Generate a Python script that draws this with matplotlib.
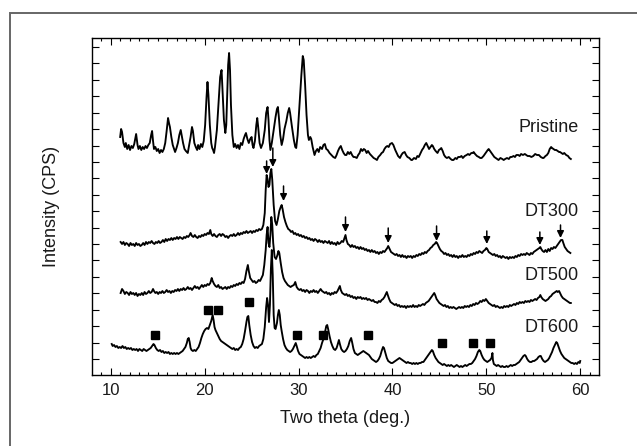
import numpy as np
import matplotlib
matplotlib.use("Agg")
import matplotlib.pyplot as plt
from matplotlib.patches import Rectangle

plt.rcParams["font.family"] = ["Liberation Sans", "DejaVu Sans"]

# (two theta, intensity offset)
pristine = np.array([
    (11.0, 238), (11.1, 246), (11.2, 243), (11.35, 232), (11.5, 228), (11.6, 232), (11.75, 226), (11.9, 230),
    (12.05, 225), (12.2, 229), (12.35, 227), (12.5, 231), (12.7, 241), (12.85, 230), (12.95, 226), (13.1, 229),
    (13.25, 225), (13.4, 228), (13.55, 226), (13.7, 229), (13.85, 227), (14.0, 230), (14.15, 232), (14.3, 240),
    (14.4, 244), (14.5, 234), (14.6, 226), (14.75, 228), (14.9, 224), (15.05, 226), (15.2, 222), (15.35, 225),
    (15.5, 223), (15.65, 226), (15.8, 232), (15.95, 244), (16.1, 257), (16.2, 252), (16.3, 248), (16.45, 238),
    (16.6, 230), (16.75, 226), (16.85, 223), (17.0, 227), (17.15, 232), (17.3, 240), (17.45, 245), (17.55, 240),
    (17.7, 232), (17.85, 226), (18.0, 224), (18.2, 222), (18.35, 230), (18.5, 238), (18.65, 248), (18.75, 244),
    (18.9, 232), (19.05, 228), (19.2, 225), (19.3, 230), (19.45, 226), (19.6, 231), (19.75, 228), (19.9, 234),
    (20.05, 250), (20.2, 278), (20.3, 293), (20.4, 280), (20.55, 250), (20.7, 232), (20.8, 227), (20.9, 225),
    (21.0, 222), (21.1, 228), (21.3, 245), (21.5, 275), (21.65, 298), (21.8, 305), (21.9, 285), (22.05, 255),
    (22.2, 242), (22.3, 250), (22.4, 280), (22.5, 310), (22.6, 322), (22.7, 305), (22.8, 270), (22.95, 240),
    (23.1, 228), (23.25, 231), (23.4, 227), (23.55, 230), (23.7, 226), (23.85, 232), (24.0, 230), (24.15, 236),
    (24.3, 240), (24.4, 242), (24.55, 236), (24.7, 232), (24.85, 236), (25.0, 238), (25.1, 230), (25.2, 227),
    (25.35, 234), (25.5, 250), (25.6, 257), (25.7, 248), (25.85, 232), (26.0, 227), (26.2, 232), (26.4, 245),
    (26.55, 262), (26.7, 268), (26.8, 255), (26.9, 235), (27.0, 225), (27.15, 232), (27.35, 245), (27.55, 258),
    (27.7, 266), (27.8, 268), (27.9, 258), (28.05, 240), (28.2, 230), (28.35, 236), (28.5, 246), (28.7, 254),
    (28.85, 262), (29.0, 267), (29.1, 262), (29.3, 248), (29.5, 235), (29.65, 228), (29.75, 227), (29.9, 240),
    (30.1, 270), (30.3, 300), (30.45, 319), (30.55, 315), (30.7, 290), (30.85, 260), (31.0, 240), (31.1, 235),
    (31.25, 238), (31.35, 236), (31.5, 228), (31.7, 220), (31.85, 224), (32.0, 226), (32.15, 223), (32.3, 228),
    (32.5, 226), (32.65, 230), (32.8, 231), (32.95, 226), (33.1, 225), (33.3, 222), (33.5, 220), (33.7, 218),
    (33.9, 217), (34.05, 220), (34.2, 224), (34.35, 227), (34.5, 229), (34.65, 225), (34.8, 222), (34.95, 220),
    (35.1, 220), (35.25, 223), (35.4, 221), (35.55, 223), (35.7, 220), (35.85, 218), (36.0, 218), (36.2, 217),
    (36.35, 220), (36.5, 222), (36.65, 226), (36.8, 224), (36.95, 226), (37.1, 225), (37.25, 222), (37.4, 224),
    (37.6, 221), (37.8, 219), (38.0, 217), (38.2, 216), (38.35, 215), (38.5, 218), (38.7, 220), (38.85, 222),
    (39.0, 223), (39.15, 226), (39.3, 228), (39.45, 229), (39.6, 228), (39.75, 231), (39.95, 232), (40.1, 230),
    (40.3, 225), (40.45, 222), (40.6, 219), (40.8, 217), (40.95, 220), (41.1, 222), (41.3, 223), (41.45, 220),
    (41.6, 218), (41.8, 217), (42.0, 215), (42.1, 215), (42.3, 217), (42.5, 216), (42.65, 219), (42.8, 218),
    (43.0, 222), (43.15, 225), (43.3, 227), (43.45, 230), (43.6, 232), (43.75, 229), (43.9, 226), (44.05, 228),
    (44.2, 230), (44.3, 229), (44.45, 226), (44.6, 224), (44.8, 222), (44.95, 225), (45.1, 226), (45.2, 227),
    (45.35, 224), (45.5, 220), (45.65, 218), (45.8, 217), (46.0, 218), (46.2, 216), (46.35, 215), (46.5, 215),
    (46.7, 217), (46.85, 216), (47.0, 218), (47.2, 218), (47.35, 219), (47.5, 217), (47.7, 219), (47.9, 220),
    (48.05, 221), (48.2, 220), (48.4, 222), (48.55, 222), (48.65, 223), (48.8, 221), (49.0, 219), (49.2, 218),
    (49.35, 217), (49.5, 217), (49.7, 219), (49.85, 221), (50.0, 223), (50.15, 225), (50.25, 226), (50.4, 224),
    (50.55, 222), (50.7, 220), (50.85, 218), (51.0, 217), (51.15, 216), (51.3, 215), (51.5, 217), (51.7, 216),
    (51.85, 215), (52.0, 216), (52.2, 217), (52.4, 216), (52.55, 218), (52.7, 218), (52.9, 219), (53.05, 218),
    (53.2, 220), (53.4, 220), (53.55, 219), (53.7, 221), (53.9, 220), (54.1, 221), (54.25, 220), (54.4, 219),
    (54.6, 219), (54.8, 218), (55.0, 219), (55.2, 221), (55.4, 220), (55.6, 220), (55.8, 218), (56.0, 217),
    (56.1, 217), (56.3, 219), (56.45, 220), (56.6, 222), (56.75, 226), (56.9, 228), (57.0, 227), (57.15, 226),
    (57.3, 225), (57.45, 225), (57.6, 224), (57.75, 223), (57.85, 223), (58.0, 222), (58.15, 221), (58.3, 222),
    (58.5, 220), (58.7, 219), (58.85, 217), (59.0, 216),
])

dt300 = np.array([
    (11.05, 133), (11.2, 131), (11.35, 133), (11.5, 130), (11.65, 132), (11.8, 131), (11.95, 129), (12.1, 132),
    (12.25, 130), (12.4, 131), (12.55, 129), (12.7, 132), (12.85, 130), (13.0, 131), (13.15, 129), (13.3, 130),
    (13.45, 132), (13.6, 130), (13.75, 133), (13.9, 131), (14.05, 133), (14.2, 132), (14.35, 134), (14.5, 132),
    (14.65, 131), (14.8, 133), (14.95, 132), (15.1, 134), (15.25, 132), (15.4, 133), (15.55, 135), (15.7, 133),
    (15.85, 136), (16.0, 134), (16.15, 136), (16.3, 135), (16.45, 137), (16.6, 135), (16.75, 137), (16.9, 136),
    (17.05, 138), (17.2, 136), (17.35, 138), (17.5, 137), (17.65, 136), (17.8, 138), (17.95, 137), (18.1, 139),
    (18.25, 138), (18.4, 140), (18.5, 142), (18.65, 139), (18.8, 138), (18.95, 140), (19.1, 138), (19.25, 137),
    (19.4, 139), (19.55, 138), (19.7, 140), (19.85, 139), (20.0, 141), (20.15, 140), (20.3, 142), (20.45, 141),
    (20.6, 145), (20.7, 141), (20.85, 139), (21.0, 141), (21.15, 139), (21.3, 138), (21.45, 140), (21.6, 141),
    (21.75, 139), (21.9, 141), (22.05, 140), (22.2, 138), (22.35, 139), (22.5, 137), (22.65, 139), (22.8, 140),
    (22.95, 139), (23.1, 141), (23.25, 139), (23.4, 140), (23.55, 142), (23.7, 140), (23.85, 142), (24.0, 141),
    (24.15, 143), (24.3, 142), (24.45, 144), (24.6, 142), (24.75, 143), (24.9, 144), (25.05, 142), (25.2, 144),
    (25.35, 143), (25.5, 145), (25.65, 144), (25.8, 146), (25.95, 145), (26.1, 146), (26.25, 150), (26.4, 162),
    (26.5, 185), (26.6, 200), (26.7, 196), (26.8, 188), (26.9, 190), (27.0, 202), (27.1, 206), (27.2, 195),
    (27.35, 170), (27.5, 154), (27.65, 150), (27.8, 156), (27.95, 164), (28.1, 168), (28.2, 170), (28.3, 166),
    (28.45, 158), (28.6, 153), (28.75, 149), (28.9, 146), (29.05, 145), (29.2, 143), (29.35, 144), (29.5, 141),
    (29.65, 142), (29.8, 140), (29.95, 141), (30.1, 139), (30.25, 140), (30.4, 138), (30.55, 139), (30.7, 137),
    (30.85, 138), (31.0, 136), (31.15, 137), (31.3, 135), (31.45, 136), (31.6, 134), (31.75, 136), (31.9, 135),
    (32.05, 133), (32.2, 135), (32.35, 133), (32.5, 134), (32.65, 132), (32.8, 134), (32.95, 133), (33.1, 132),
    (33.25, 134), (33.4, 131), (33.55, 133), (33.7, 131), (33.85, 132), (34.0, 130), (34.15, 133), (34.3, 131),
    (34.45, 132), (34.6, 134), (34.75, 133), (34.9, 137), (35.0, 140), (35.1, 135), (35.25, 131), (35.4, 130),
    (35.55, 128), (35.7, 130), (35.85, 128), (36.0, 129), (36.15, 127), (36.3, 128), (36.45, 126), (36.6, 128),
    (36.75, 126), (36.9, 127), (37.05, 125), (37.2, 126), (37.35, 124), (37.5, 125), (37.65, 123), (37.8, 125),
    (37.95, 123), (38.1, 124), (38.25, 122), (38.4, 123), (38.55, 121), (38.7, 123), (38.85, 122), (39.0, 124),
    (39.15, 123), (39.3, 125), (39.45, 127), (39.55, 129), (39.7, 126), (39.85, 123), (40.0, 122), (40.15, 121),
    (40.3, 120), (40.45, 121), (40.6, 119), (40.75, 120), (40.9, 118), (41.05, 120), (41.2, 118), (41.35, 119),
    (41.5, 117), (41.65, 119), (41.8, 118), (41.95, 119), (42.1, 117), (42.25, 119), (42.4, 118), (42.55, 120),
    (42.7, 119), (42.85, 121), (43.0, 120), (43.15, 122), (43.3, 121), (43.45, 123), (43.6, 122), (43.75, 124),
    (43.9, 125), (44.05, 127), (44.2, 128), (44.35, 130), (44.5, 131), (44.65, 133), (44.75, 132), (44.9, 129),
    (45.05, 126), (45.2, 124), (45.35, 123), (45.5, 121), (45.65, 122), (45.8, 120), (45.95, 121), (46.1, 119),
    (46.25, 120), (46.4, 118), (46.55, 120), (46.7, 118), (46.85, 119), (47.0, 117), (47.15, 119), (47.3, 118),
    (47.45, 120), (47.6, 118), (47.75, 119), (47.9, 118), (48.05, 120), (48.2, 119), (48.35, 121), (48.5, 120),
    (48.65, 122), (48.8, 121), (48.95, 123), (49.1, 122), (49.25, 124), (49.4, 123), (49.55, 122), (49.7, 124),
    (49.85, 125), (50.0, 127), (50.1, 126), (50.25, 123), (50.4, 122), (50.55, 121), (50.7, 120), (50.85, 121),
    (51.0, 119), (51.15, 120), (51.3, 118), (51.45, 119), (51.6, 117), (51.75, 119), (51.9, 118), (52.05, 117),
    (52.2, 118), (52.35, 116), (52.5, 118), (52.65, 117), (52.8, 118), (52.95, 117), (53.1, 119), (53.25, 118),
    (53.4, 120), (53.55, 119), (53.7, 121), (53.85, 120), (54.0, 121), (54.15, 120), (54.3, 122), (54.45, 121),
    (54.6, 120), (54.75, 122), (54.9, 121), (55.05, 123), (55.2, 124), (55.35, 125), (55.5, 126), (55.65, 127),
    (55.75, 128), (55.85, 126), (56.0, 124), (56.15, 123), (56.3, 125), (56.45, 123), (56.6, 126), (56.75, 124),
    (56.9, 127), (57.05, 126), (57.2, 128), (57.35, 127), (57.5, 129), (57.65, 131), (57.8, 133), (57.95, 135),
    (58.1, 135), (58.2, 132), (58.35, 128), (58.5, 126), (58.65, 124), (58.8, 123), (58.95, 122),
])

dt500 = np.array([
    (11.05, 82), (11.2, 86), (11.35, 84), (11.5, 81), (11.65, 83), (11.8, 82), (11.95, 80), (12.1, 83),
    (12.25, 81), (12.4, 82), (12.55, 80), (12.7, 82), (12.85, 79), (13.0, 81), (13.15, 80), (13.3, 82),
    (13.45, 80), (13.6, 83), (13.75, 81), (13.9, 82), (14.05, 84), (14.2, 82), (14.35, 83), (14.5, 86),
    (14.6, 84), (14.75, 82), (14.9, 83), (15.05, 81), (15.2, 83), (15.35, 82), (15.5, 84), (15.65, 82),
    (15.8, 83), (15.95, 85), (16.1, 83), (16.25, 84), (16.4, 82), (16.55, 84), (16.7, 83), (16.85, 85),
    (17.0, 84), (17.15, 86), (17.3, 84), (17.45, 86), (17.6, 85), (17.75, 87), (17.9, 85), (18.05, 86),
    (18.2, 88), (18.35, 86), (18.5, 87), (18.65, 85), (18.8, 87), (18.95, 89), (19.1, 87), (19.25, 88),
    (19.4, 86), (19.55, 88), (19.7, 90), (19.85, 88), (20.0, 90), (20.15, 89), (20.3, 91), (20.45, 90),
    (20.6, 92), (20.75, 97), (20.85, 94), (21.0, 91), (21.15, 89), (21.3, 88), (21.45, 90), (21.6, 87),
    (21.75, 88), (21.9, 86), (22.05, 87), (22.2, 88), (22.35, 86), (22.5, 88), (22.65, 87), (22.8, 89),
    (22.95, 88), (23.1, 90), (23.25, 89), (23.4, 91), (23.55, 90), (23.7, 92), (23.85, 91), (24.0, 93),
    (24.15, 92), (24.3, 96), (24.45, 104), (24.6, 110), (24.7, 104), (24.85, 97), (25.0, 95), (25.15, 93),
    (25.3, 94), (25.45, 92), (25.6, 93), (25.75, 95), (25.9, 94), (26.05, 97), (26.2, 100), (26.35, 110),
    (26.5, 125), (26.6, 140), (26.7, 148), (26.8, 132), (26.9, 128), (27.0, 140), (27.1, 158), (27.2, 150),
    (27.3, 132), (27.45, 118), (27.6, 116), (27.75, 120), (27.85, 124), (27.95, 122), (28.1, 112), (28.25, 103),
    (28.4, 97), (28.55, 94), (28.7, 92), (28.85, 90), (29.0, 89), (29.15, 88), (29.3, 89), (29.5, 90),
    (29.65, 93), (29.8, 88), (29.95, 86), (30.1, 85), (30.25, 86), (30.4, 84), (30.55, 85), (30.7, 83),
    (30.85, 85), (31.0, 84), (31.15, 82), (31.3, 84), (31.45, 83), (31.6, 85), (31.75, 83), (31.9, 84),
    (32.05, 82), (32.2, 84), (32.35, 86), (32.5, 84), (32.65, 83), (32.8, 82), (32.95, 83), (33.1, 81),
    (33.25, 82), (33.4, 80), (33.55, 82), (33.7, 81), (33.85, 83), (34.0, 82), (34.15, 84), (34.3, 87),
    (34.4, 89), (34.5, 85), (34.65, 82), (34.8, 81), (34.95, 80), (35.1, 81), (35.25, 79), (35.4, 80),
    (35.55, 78), (35.7, 79), (35.85, 77), (36.0, 78), (36.15, 76), (36.3, 78), (36.45, 77), (36.6, 78),
    (36.75, 76), (36.9, 77), (37.05, 76), (37.2, 77), (37.35, 75), (37.5, 76), (37.65, 75), (37.8, 74),
    (37.95, 75), (38.1, 73), (38.25, 73), (38.4, 72), (38.55, 74), (38.7, 73), (38.85, 75), (39.0, 76),
    (39.15, 78), (39.3, 81), (39.4, 83), (39.5, 80), (39.65, 76), (39.8, 73), (39.95, 72), (40.1, 71),
    (40.25, 70), (40.4, 71), (40.55, 69), (40.7, 70), (40.85, 68), (41.0, 69), (41.15, 68), (41.3, 69),
    (41.45, 67), (41.6, 69), (41.75, 68), (41.9, 69), (42.05, 68), (42.2, 70), (42.35, 68), (42.5, 69),
    (42.65, 68), (42.8, 70), (42.95, 69), (43.1, 70), (43.25, 71), (43.4, 70), (43.55, 72), (43.7, 73),
    (43.85, 74), (44.0, 76), (44.15, 78), (44.3, 80), (44.45, 82), (44.55, 80), (44.7, 76), (44.85, 74),
    (45.0, 72), (45.15, 71), (45.3, 70), (45.45, 69), (45.6, 70), (45.75, 68), (45.9, 69), (46.05, 67),
    (46.2, 68), (46.35, 67), (46.5, 68), (46.65, 67), (46.8, 66), (46.95, 67), (47.1, 68), (47.25, 67),
    (47.4, 68), (47.55, 67), (47.7, 69), (47.85, 68), (48.0, 69), (48.15, 68), (48.3, 70), (48.45, 69),
    (48.6, 71), (48.75, 70), (48.9, 72), (49.05, 71), (49.2, 72), (49.35, 74), (49.5, 73), (49.65, 75),
    (49.8, 74), (49.95, 76), (50.1, 74), (50.25, 72), (50.4, 71), (50.55, 70), (50.7, 69), (50.85, 70),
    (51.0, 68), (51.15, 69), (51.3, 68), (51.45, 67), (51.6, 68), (51.75, 67), (51.9, 69), (52.05, 68),
    (52.2, 69), (52.35, 68), (52.5, 70), (52.65, 69), (52.8, 70), (52.95, 71), (53.1, 70), (53.25, 72),
    (53.4, 71), (53.55, 73), (53.7, 72), (53.85, 73), (54.0, 72), (54.15, 74), (54.3, 73), (54.45, 74),
    (54.6, 73), (54.75, 75), (54.9, 74), (55.05, 75), (55.2, 76), (55.35, 75), (55.5, 77), (55.65, 78),
    (55.75, 80), (55.85, 78), (56.0, 76), (56.15, 75), (56.3, 74), (56.45, 75), (56.6, 76), (56.75, 78),
    (56.9, 79), (57.05, 81), (57.2, 82), (57.35, 83), (57.5, 84), (57.6, 83), (57.75, 84), (57.85, 82),
    (58.0, 79), (58.15, 77), (58.3, 76), (58.45, 75), (58.6, 74), (58.75, 73), (58.9, 72), (59.0, 72),
])

dt600 = np.array([
    (10.1, 31), (10.2, 29), (10.35, 30), (10.5, 28), (10.65, 29), (10.8, 27), (10.95, 28), (11.1, 27),
    (11.25, 29), (11.4, 27), (11.55, 28), (11.7, 26), (11.85, 27), (12.0, 26), (12.15, 27), (12.3, 25),
    (12.45, 26), (12.6, 25), (12.75, 26), (12.9, 24), (13.05, 26), (13.2, 25), (13.35, 24), (13.5, 26),
    (13.65, 25), (13.8, 24), (13.95, 25), (14.1, 26), (14.25, 27), (14.4, 29), (14.55, 31), (14.65, 30),
    (14.8, 27), (14.95, 25), (15.1, 24), (15.25, 25), (15.4, 23), (15.55, 24), (15.7, 22), (15.85, 23),
    (16.0, 22), (16.15, 23), (16.3, 21), (16.45, 22), (16.6, 21), (16.75, 22), (16.9, 21), (17.05, 22),
    (17.2, 21), (17.35, 22), (17.5, 23), (17.65, 24), (17.8, 26), (17.95, 28), (18.1, 32), (18.2, 36),
    (18.3, 37), (18.4, 33), (18.5, 27), (18.6, 25), (18.75, 24), (18.9, 25), (19.05, 24), (19.2, 26),
    (19.35, 28), (19.5, 32), (19.65, 37), (19.8, 41), (19.95, 44), (20.1, 46), (20.25, 47), (20.4, 46),
    (20.55, 50), (20.7, 54), (20.8, 58), (20.85, 60), (20.95, 55), (21.05, 48), (21.15, 45), (21.3, 42),
    (21.45, 39), (21.6, 36), (21.75, 34), (21.9, 33), (22.05, 32), (22.2, 31), (22.35, 30), (22.5, 29),
    (22.65, 28), (22.8, 27), (22.95, 26), (23.1, 27), (23.25, 25), (23.4, 26), (23.55, 25), (23.7, 27),
    (23.85, 28), (24.0, 31), (24.15, 36), (24.3, 44), (24.45, 53), (24.55, 58), (24.65, 59), (24.75, 50),
    (24.9, 40), (25.05, 33), (25.2, 29), (25.35, 27), (25.5, 28), (25.65, 27), (25.8, 29), (25.95, 30),
    (26.1, 31), (26.25, 36), (26.4, 48), (26.55, 68), (26.65, 77), (26.75, 70), (26.85, 53), (26.95, 70),
    (27.05, 105), (27.15, 125), (27.25, 100), (27.35, 60), (27.45, 47), (27.55, 46), (27.7, 52), (27.8, 60),
    (27.9, 65), (28.0, 60), (28.1, 50), (28.2, 44), (28.35, 36), (28.5, 30), (28.65, 27), (28.8, 25),
    (28.95, 24), (29.1, 23), (29.25, 24), (29.4, 26), (29.55, 29), (29.7, 32), (29.8, 29), (29.95, 24),
    (30.1, 21), (30.25, 20), (30.4, 19), (30.55, 18), (30.7, 17), (30.85, 18), (31.0, 17), (31.15, 18),
    (31.3, 17), (31.45, 18), (31.6, 19), (31.75, 18), (31.9, 20), (32.05, 21), (32.2, 24), (32.35, 27),
    (32.5, 32), (32.65, 36), (32.8, 42), (32.95, 49), (33.05, 50), (33.15, 46), (33.3, 39), (33.45, 33),
    (33.6, 29), (33.75, 26), (33.9, 25), (34.05, 27), (34.15, 30), (34.3, 35), (34.4, 31), (34.55, 26),
    (34.7, 24), (34.85, 23), (35.0, 24), (35.15, 26), (35.3, 29), (35.45, 34), (35.6, 37), (35.7, 33),
    (35.85, 26), (36.0, 22), (36.15, 21), (36.3, 20), (36.45, 21), (36.6, 22), (36.75, 23), (36.9, 24),
    (37.05, 23), (37.2, 22), (37.35, 21), (37.5, 20), (37.65, 18), (37.8, 16), (37.95, 15), (38.1, 14),
    (38.25, 13), (38.4, 14), (38.55, 16), (38.7, 19), (38.85, 24), (39.0, 28), (39.1, 27), (39.25, 22),
    (39.4, 17), (39.55, 14), (39.7, 13), (39.85, 12), (40.0, 12), (40.15, 13), (40.3, 14), (40.45, 15),
    (40.6, 16), (40.75, 17), (40.9, 16), (41.05, 15), (41.2, 14), (41.35, 13), (41.5, 12), (41.65, 13),
    (41.8, 12), (41.95, 12), (42.1, 11), (42.25, 12), (42.4, 11), (42.55, 12), (42.7, 11), (42.85, 12),
    (43.0, 12), (43.15, 13), (43.3, 13), (43.45, 15), (43.6, 17), (43.75, 19), (43.9, 21), (44.05, 23),
    (44.2, 25), (44.3, 24), (44.45, 20), (44.6, 17), (44.75, 15), (44.9, 13), (45.05, 12), (45.2, 11),
    (45.35, 10), (45.5, 11), (45.65, 10), (45.8, 9), (45.95, 10), (46.1, 9), (46.25, 10), (46.4, 9),
    (46.55, 8), (46.7, 9), (46.85, 10), (47.0, 9), (47.15, 8), (47.3, 9), (47.45, 8), (47.6, 9),
    (47.75, 10), (47.9, 9), (48.05, 10), (48.2, 11), (48.35, 11), (48.5, 12), (48.65, 14), (48.8, 16),
    (48.95, 19), (49.1, 23), (49.25, 25), (49.35, 24), (49.5, 20), (49.65, 17), (49.8, 15), (49.95, 14),
    (50.1, 13), (50.25, 14), (50.4, 15), (50.55, 17), (50.65, 22), (50.7, 15), (50.8, 11), (50.95, 10),
    (51.1, 9), (51.25, 10), (51.4, 9), (51.55, 8), (51.7, 9), (51.85, 8), (52.0, 8), (52.15, 9),
    (52.3, 8), (52.45, 9), (52.6, 10), (52.75, 9), (52.9, 10), (53.05, 10), (53.2, 11), (53.35, 12),
    (53.5, 13), (53.65, 15), (53.8, 17), (53.95, 19), (54.1, 20), (54.2, 19), (54.35, 16), (54.5, 14),
    (54.65, 13), (54.8, 13), (54.95, 14), (55.1, 14), (55.25, 15), (55.4, 16), (55.55, 18), (55.7, 19),
    (55.8, 19), (55.95, 16), (56.1, 14), (56.25, 13), (56.4, 14), (56.55, 15), (56.7, 17), (56.85, 20),
    (57.0, 23), (57.15, 27), (57.3, 30), (57.45, 33), (57.55, 32), (57.7, 28), (57.85, 24), (58.0, 21),
    (58.15, 19), (58.3, 17), (58.45, 16), (58.6, 15), (58.75, 14), (58.9, 13), (59.05, 12), (59.2, 12),
    (59.35, 11), (59.5, 12), (59.65, 11), (59.8, 13), (59.95, 12), (60.0, 14),
])

# sample names and label heights
names = ["Pristine", "DT300", "DT500", "DT600"]
label_y = [247, 163, 100, 48]

# DT300 arrows: (two theta, tip, tail)
arrows_x = [26.6, 27.26, 28.4, 35.0, 39.55, 44.7, 50.05, 55.7, 57.9]
arrows_tip = [201, 208, 174, 143, 132, 134, 131, 130, 137]
arrows_tail = [214, 227, 189, 158, 147, 149, 144, 143, 150]

# DT600 square markers
squares_x = [14.7, 20.4, 21.45, 24.7, 29.8, 32.6, 37.4, 45.3, 48.6, 50.4]
squares_y = [40, 65, 65, 73, 40, 40, 40, 32, 32, 32]

fig = plt.figure(figsize=(6.37, 4.46), dpi=100)
fig.patches.append(Rectangle((10 / 637, -0.1), 1.2, 1.1 - 13 / 446,
                             transform=fig.transFigure, fill=False,
                             edgecolor="#666666", linewidth=1.4, figure=fig))

ax = fig.add_axes([92 / 637, 1 - 375 / 446, 507 / 637, 337 / 446])

for data in (pristine, dt300, dt500, dt600):
    ax.plot(data[:, 0], data[:, 1], color="black", linewidth=1.35)

for x, tip, tail in zip(arrows_x, arrows_tip, arrows_tail):
    ax.annotate("", xy=(x, tip), xytext=(x, tail),
                arrowprops=dict(arrowstyle="-|>", color="black", lw=1.1,
                                mutation_scale=10, shrinkA=0, shrinkB=0))

ax.plot(squares_x, squares_y, linestyle="none", marker="s", markersize=5.2,
        color="black")

for name, y in zip(names, label_y):
    ax.text(59.8, y, name, ha="right", va="center", fontsize=13, color="#1a1a1a")

ax.set_xlim(8, 62)
ax.set_ylim(0, 337)
ax.set_xticks([10, 20, 30, 40, 50, 60])
ax.set_xticks(np.arange(9, 62, 1), minor=True)
ax.set_yticks(16 + 16.42 * np.arange(20))
ax.set_yticklabels([])
ax.tick_params(axis="both", which="both", direction="in", top=True, right=True,
               width=0.8)
ax.tick_params(axis="both", which="major", length=5, labelsize=12, pad=6,
               labelcolor="#1a1a1a")
ax.tick_params(axis="both", which="minor", length=2.5)
for spine in ax.spines.values():
    spine.set_linewidth(1.0)

ax.set_xlabel("Two theta (deg.)", fontsize=13, color="#1a1a1a")
ax.set_ylabel("Intensity (CPS)", fontsize=13, color="#1a1a1a")
ax.xaxis.set_label_coords(0.5, -0.105)
ax.yaxis.set_label_coords(-0.063, 0.5)

fig.savefig("out.png", dpi=100)
